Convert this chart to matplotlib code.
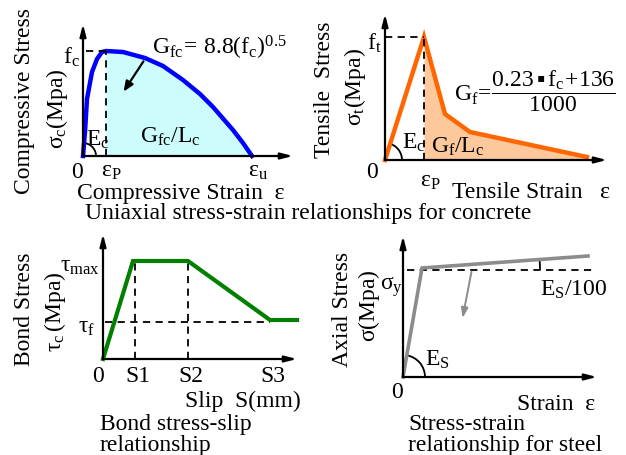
import matplotlib
matplotlib.use('Agg')
import matplotlib.pyplot as plt
from matplotlib.patches import Arc

plt.rcParams['font.family'] = ['Liberation Serif', 'DejaVu Sans']
plt.rcParams['mathtext.fontset'] = 'custom'
plt.rcParams['mathtext.rm'] = 'Liberation Serif'
plt.rcParams['mathtext.it'] = 'Liberation Serif'
plt.rcParams['mathtext.bf'] = 'Liberation Serif:bold'

# values, in pixels from each panel's origin (x right, y up)
# concrete in compression
comp_asc_x = [0, 2, 4, 9, 14, 19, 23]
comp_asc_y = [0, 24, 57, 84, 97, 104, 105]
comp_desc_x = [23, 40, 62, 80, 100, 117, 130, 150, 160, 169]
comp_desc_y = [105, 104, 98, 90, 76, 62, 49, 26, 13, 0]
comp_eps_p, comp_fc = 23, 105

# concrete in tension
tens_x = [0, 39, 60, 85, 202]
tens_y = [0, 123, 46, 28, 3]
tens_eps_p, tens_ft = 39, 123

# bond stress-slip
bond_x = [0, 30, 85, 167, 194]
bond_y = [0, 98, 98, 39, 39]
bond_s1, bond_s2, bond_s3 = 32, 85, 167
bond_tau_max, bond_tau_f = 98, 37

# steel
steel_x = [0, 19, 185]
steel_y = [0, 109, 121]
steel_sig_y = 107

W, H = 626, 456
FS = 17
fig = plt.figure(figsize=(W / 100, H / 100), dpi=100)


def panel(ox, oy):
    ax = fig.add_axes([0, 0, 1, 1], label='p%d_%d' % (ox, oy))
    ax.set_xlim(-ox, W - ox)
    ax.set_ylim(oy - H, oy)
    ax.axis('off')
    ax.patch.set_alpha(0)
    return ax


def axes_arrows(ax, xtip, ytip):
    kw = dict(arrowstyle='-|>,head_length=0.7,head_width=0.18', color='k', lw=1.6,
              shrinkA=0, shrinkB=0)
    ax.annotate('', xy=(xtip, 0), xytext=(0, 0), arrowprops=kw)
    ax.annotate('', xy=(0, ytip), xytext=(0, 0), arrowprops=kw)


dash = dict(color='k', lw=1.3, ls=(0, (4, 3)))

# ---- compressive
ax1 = panel(83, 157)
ax1.fill_between(comp_desc_x, comp_desc_y, 0, color='#ccfcfc', lw=0)
ax1.plot(comp_asc_x + comp_desc_x[1:], comp_asc_y + comp_desc_y[1:], color='#0000ff', lw=3.2,
         solid_joinstyle='round')
ax1.plot([comp_eps_p, comp_eps_p], [0, comp_fc], **dash)
ax1.plot([3, comp_eps_p], [comp_fc, comp_fc], **dash)
axes_arrows(ax1, 210, 132)
ax1.add_patch(Arc((0, 0), 26, 26, theta1=0, theta2=82, color='k', lw=1.3))
ax1.annotate('', xy=(39, 62), xytext=(62, 97),
             arrowprops=dict(arrowstyle='-|>,head_length=0.6,head_width=0.25', color='k', lw=1.6))
ax1.text(-58, 56, 'Compressive Stress', rotation=90, ha='center', va='center', fontsize=FS)
ax1.text(-26, 48, r'$\mathrm{\sigma_c(Mpa)}$', rotation=90, ha='center', va='center', fontsize=FS)
ax1.text(-3, 100, r'$\mathrm{f_c}$', ha='right', va='center', fontsize=FS)
ax1.text(3, 17, r'$\mathrm{E_c}$', ha='left', va='center', fontsize=FS)
ax1.text(-6, -15, '0', ha='center', va='center', fontsize=FS)
ax1.text(28, -14, r'$\mathrm{\varepsilon_P}$', ha='center', va='center', fontsize=FS)
ax1.text(175, -14, r'$\mathrm{\varepsilon_u}$', ha='center', va='center', fontsize=FS)
ax1.text(-6, -36, 'Compressive Strain  ε', ha='left', va='center', fontsize=FS)
ax1.text(57, 20, r'$\mathrm{G_{fc}/L_c}$', ha='left', va='center', fontsize=FS)
ax1.text(69, 109, r'$\mathrm{G_{fc}\!=\,8.8(f_c)^{0.5}}$', ha='left', va='center', fontsize=FS)

fig.text(308 / W, 1 - 214 / H, 'Uniaxial stress-strain relationships for concrete',
         ha='center', va='center', fontsize=FS)

# ---- tensile
ax2 = panel(385, 161)
ax2.fill_between(tens_x[1:], tens_y[1:], 0, color='#fcc89c', lw=0)
ax2.plot(tens_x, tens_y, color='#ff6600', lw=3.2, solid_joinstyle='miter')
ax2.plot([tens_eps_p, tens_eps_p], [0, tens_ft], **dash)
ax2.plot([0, tens_eps_p], [tens_ft, tens_ft], **dash)
axes_arrows(ax2, 222, 146)
ax2.add_patch(Arc((0, 0), 34, 34, theta1=0, theta2=72, color='k', lw=1.3))
ax2.text(-60, 71, 'Tensile  Stress', rotation=90, ha='center', va='center', fontsize=FS)
ax2.text(-30, 74, r'$\mathrm{\sigma_t(Mpa)}$', rotation=90, ha='center', va='center', fontsize=FS)
ax2.text(-3, 118, r'$\mathrm{f_t}$', ha='right', va='center', fontsize=FS)
ax2.text(17, 18, r'$\mathrm{E_c}$', ha='left', va='center', fontsize=FS)
ax2.text(46, 14, r'$\mathrm{G_f/L_c}$', ha='left', va='center', fontsize=FS)
ax2.text(69, 70, r'$\mathrm{G_f\!=\!\dfrac{0.23\,▪\,f_c\!+\!136}{1000}}$', ha='left', va='center',
         fontsize=FS)
ax2.text(-13, -12, '0', ha='center', va='center', fontsize=FS)
ax2.text(45, -21, r'$\mathrm{\varepsilon_P}$', ha='center', va='center', fontsize=FS)
ax2.text(67, -31, 'Tensile Strain   ε', ha='left', va='center', fontsize=FS)

# ---- bond
ax3 = panel(103, 360)
ax3.plot([2, bond_s3], [bond_tau_f, bond_tau_f], **dash)
ax3.plot([bond_s1, bond_s1], [0, bond_tau_max], **dash)
ax3.plot([bond_s2, bond_s2], [0, bond_tau_max], **dash)
ax3.plot(bond_x, bond_y, color='#008000', lw=3.0, solid_joinstyle='miter')
axes_arrows(ax3, 194, 125)
ax3.text(-78, 51, 'Bond Stress', rotation=90, ha='center', va='center', fontsize=FS)
ax3.text(-48, 48, r'$\mathrm{\tau_c\,(Mpa)}$', rotation=90, ha='center', va='center', fontsize=FS)
ax3.text(-3, 93, r'$\mathrm{\tau_{max}}$', ha='right', va='center', fontsize=FS)
ax3.text(-8, 33, r'$\mathrm{\tau_f}$', ha='right', va='center', fontsize=FS)
ax3.text(-5, -17, '0', ha='center', va='center', fontsize=FS)
for s, lab in zip([bond_s1, bond_s2, bond_s3], ['S1', 'S2', 'S3']):
    ax3.text(s + 3, -17, lab, ha='center', va='center', fontsize=FS)
ax3.text(82, -41, 'Slip  S(mm)', ha='left', va='center', fontsize=FS)
ax3.text(-3, -75, 'Bond stress-slip\nrelationship', ha='left', va='center', fontsize=FS,
         linespacing=0.95)

# ---- steel
ax4 = panel(403, 378)
ax4.plot([4, 189], [steel_sig_y, steel_sig_y], **dash)
ax4.plot(steel_x, steel_y, color='#8c8c8c', lw=2.6, solid_joinstyle='miter')
axes_arrows(ax4, 194, 141)
ax4.add_patch(Arc((0, 0), 44, 44, theta1=0, theta2=80, color='k', lw=1.3))
ax4.add_patch(Arc((steel_x[1], steel_sig_y), 236, 236, theta1=0, theta2=5, color='k', lw=1.3))
ax4.annotate('', xy=(59, 56), xytext=(69, 108),
             arrowprops=dict(arrowstyle='-|>,head_length=0.6,head_width=0.2', color='#8c8c8c', lw=1.4))
ax4.text(-60, 69, 'Axial Stress', rotation=90, ha='center', va='center', fontsize=FS)
ax4.text(-34, 72, r'$\mathrm{\sigma(Mpa)}$', rotation=90, ha='center', va='center', fontsize=FS)
ax4.text(0, 91, r'$\mathrm{\sigma_y}$', ha='right', va='center', fontsize=FS)
ax4.text(137, 88, r'$\mathrm{E_S/100}$', ha='left', va='center', fontsize=FS)
ax4.text(22, 18, r'$\mathrm{E_S}$', ha='left', va='center', fontsize=FS)
ax4.text(-6, -15, '0', ha='center', va='center', fontsize=FS)
ax4.text(114, -27, 'Strain  ε', ha='left', va='center', fontsize=FS)
ax4.text(5, -57, 'Stress-strain\nrelationship for steel', ha='left', va='center', fontsize=FS,
         linespacing=0.95)

fig.savefig('out.png', dpi=100)
